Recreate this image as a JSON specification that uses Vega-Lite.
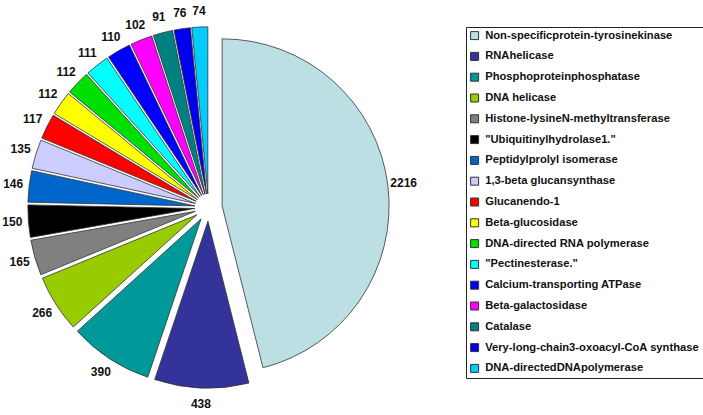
{
  "$schema": "https://vega.github.io/schema/vega-lite/v6.json",
  "width": 417,
  "height": 415,
  "autosize": {"type": "none"},
  "padding": {"left": 0, "top": 0, "right": 286, "bottom": 0},
  "background": "white",
  "view": {"stroke": null},
  "data": {
    "values": [
      {"i": 1, "name": "Non-specificprotein-tyrosinekinase", "count": 2216},
      {"i": 2, "name": "RNAhelicase", "count": 438},
      {"i": 3, "name": "Phosphoproteinphosphatase", "count": 390},
      {"i": 4, "name": "DNA helicase", "count": 266},
      {"i": 5, "name": "Histone-lysineN-methyltransferase", "count": 165},
      {"i": 6, "name": "\"Ubiquitinylhydrolase1.\"", "count": 150},
      {"i": 7, "name": "Peptidylprolyl isomerase", "count": 146},
      {"i": 8, "name": "1,3-beta glucansynthase", "count": 135},
      {"i": 9, "name": "Glucanendo-1", "count": 117},
      {"i": 10, "name": "Beta-glucosidase", "count": 112},
      {"i": 11, "name": "DNA-directed RNA polymerase", "count": 112},
      {"i": 12, "name": "\"Pectinesterase.\"", "count": 111},
      {"i": 13, "name": "Calcium-transporting ATPase", "count": 110},
      {"i": 14, "name": "Beta-galactosidase", "count": 102},
      {"i": 15, "name": "Catalase", "count": 91},
      {"i": 16, "name": "Very-long-chain3-oxoacyl-CoA synthase", "count": 76},
      {"i": 17, "name": "DNA-directedDNApolymerase", "count": 74}
    ]
  },
  "transform": [
    {"joinaggregate": [{"op": "sum", "field": "count", "as": "total"}]}
  ],
  "encoding": {
    "theta": {"field": "count", "type": "quantitative", "stack": true},
    "order": {"field": "i", "type": "quantitative"}
  },
  "layer": [
    {
      "mark": {
        "type": "arc",
        "outerRadius": 167,
        "stroke": "#333333",
        "strokeWidth": 0.8,
        "xOffset": {"expr": "13.7*sin(PI*(datum.count_start+datum.count_end)/datum.total)"},
        "yOffset": {"expr": "-13.7*cos(PI*(datum.count_start+datum.count_end)/datum.total)"}
      },
      "encoding": {
        "color": {
          "field": "name",
          "type": "nominal",
          "scale": {
            "domain": ["Non-specificprotein-tyrosinekinase", "RNAhelicase", "Phosphoproteinphosphatase", "DNA helicase", "Histone-lysineN-methyltransferase", "\"Ubiquitinylhydrolase1.\"", "Peptidylprolyl isomerase", "1,3-beta glucansynthase", "Glucanendo-1", "Beta-glucosidase", "DNA-directed RNA polymerase", "\"Pectinesterase.\"", "Calcium-transporting ATPase", "Beta-galactosidase", "Catalase", "Very-long-chain3-oxoacyl-CoA synthase", "DNA-directedDNApolymerase"],
            "range": ["#BBDFE3", "#333399", "#009999", "#99CC00", "#808080", "#000000", "#0066CC", "#CCCCFF", "#FF0000", "#FFFF00", "#00E000", "#00FFFF", "#0000FF", "#FF00FF", "#008080", "#0000EE", "#00CCFF"]
          },
          "legend": {
            "title": null,
            "orient": "none",
            "legendX": 466,
            "legendY": 27,
            "strokeColor": "#222222",
            "fillColor": "#ffffff",
            "padding": 3,
            "symbolType": "square",
            "symbolSize": 64,
            "symbolStrokeColor": "#333333",
            "symbolStrokeWidth": 1,
            "labelFont": "Liberation Sans",
            "labelFontSize": 11.2,
            "labelFontWeight": "bold",
            "labelColor": "#111111",
            "labelOffset": 5,
            "labelLimit": 400,
            "rowPadding": 7.8
          }
        }
      }
    },
    {
      "mark": {
        "type": "text",
        "radius": 183,
        "font": "Liberation Sans",
        "fontSize": 12,
        "fontWeight": "bold",
        "color": "#111111",
        "xOffset": {"expr": "13.7*sin(PI*(datum.count_start+datum.count_end)/datum.total)"},
        "yOffset": {"expr": "-13.7*cos(PI*(datum.count_start+datum.count_end)/datum.total)"}
      },
      "encoding": {
        "text": {"field": "count", "type": "quantitative"},
        "detail": {"field": "name", "type": "nominal"}
      }
    }
  ]
}
